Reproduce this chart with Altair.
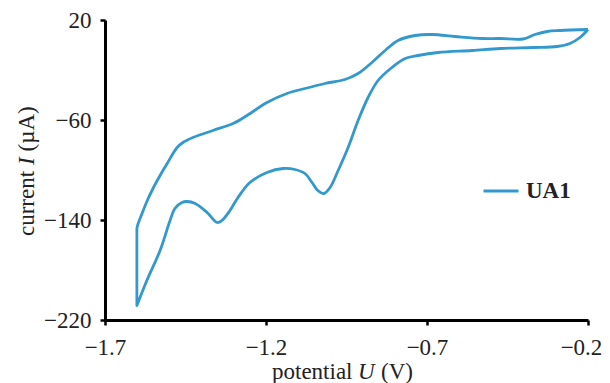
import altair as alt
import pandas as pd

# Cyclic voltammogram UA1: potential (V) and current (µA), in sweep order
potential = [
    -0.200, -0.287, -0.327, -0.365, -0.402, -0.473, -0.529, -0.613, -0.684, -0.737,
    -0.790, -0.830, -0.871, -0.914, -0.955, -1.017, -1.079, -1.135, -1.197, -1.259,
    -1.302, -1.365, -1.427, -1.458, -1.476, -1.507, -1.529, -1.551, -1.570, -1.585,
    -1.598, -1.601, -1.601, -1.601, -1.601,
    -1.570, -1.529, -1.498, -1.483, -1.461, -1.445, -1.420, -1.383, -1.352, -1.337,
    -1.312, -1.287, -1.250, -1.197, -1.147, -1.110, -1.079, -1.057, -1.039, -1.020,
    -1.001, -0.976, -0.945, -0.914, -0.883, -0.852, -0.809, -0.768, -0.728, -0.666,
    -0.560, -0.473, -0.371, -0.296, -0.256, -0.225, -0.200,
]
current = [
    12.4, 11.6, 10.8, 8.4, 4.8, 5.2, 5.2, 6.8, 8.4, 7.6,
    3.6, -4.4, -14.0, -22.8, -27.6, -30.8, -34.8, -38.8, -46.0, -56.4,
    -62.8, -68.4, -74.0, -78.0, -82.0, -94.8, -104.4, -114.8, -125.2, -134.8,
    -143.6, -146.8, -146.8, -208.4, -208.4,
    -188.4, -164.4, -140.4, -130.8, -126.0, -125.2, -126.8, -134.0, -142.0, -140.4,
    -132.4, -122.0, -110.0, -102.0, -98.8, -99.6, -102.8, -110.0, -116.4, -118.8,
    -114.0, -100.4, -82.0, -60.4, -42.0, -28.4, -18.0, -10.8, -8.4, -6.0,
    -4.4, -2.8, -2.0, -1.2, 1.2, 6.0, 12.4,
]
series_name = "UA1"
x_ticks = [-1.7, -1.2, -0.7, -0.2]
y_ticks = [-220, -140, -60, 20]

# axis titles, split so the symbol letters can be set in italics
x_title_parts = ["potential", "U", "(V)"]
y_title_parts = ["current", "I", "(µA)"]

df = pd.DataFrame({
    "U": potential,
    "I": current,
    "order": list(range(len(potential))),
    "series": [series_name] * len(potential),
})

FONT = "Liberation Serif"
BLUE = "#3298cd"
TEXT = "#222222"
FS = 23

line = alt.Chart(df).mark_line(
    strokeWidth=2.8, strokeJoin="round", interpolate="catmull-rom"
).encode(
    x=alt.X(
        "U:Q",
        scale=alt.Scale(domain=[-1.7, -0.2], nice=False, zero=False),
        axis=alt.Axis(
            values=x_ticks, format=".1f", title=None,
            labelPadding=11, labelFlush=False,
            labelOffset={"condition": {"test": "datum.value > -0.25", "value": -7}, "value": 0},
        ),
    ),
    y=alt.Y(
        "I:Q",
        scale=alt.Scale(domain=[-220, 20], nice=False, zero=False),
        axis=alt.Axis(values=y_ticks, format="d", title=None,
                      labelPadding=9, labelFlush=False),
    ),
    order=alt.Order("order:Q"),
    color=alt.Color(
        "series:N",
        scale=alt.Scale(range=[BLUE]),
        legend=alt.Legend(
            title=None, orient="none", legendX=377, legendY=152,
            symbolType="stroke", symbolSize=1225, symbolStrokeWidth=3,
            labelFont=FONT, labelFontSize=FS, labelFontWeight="bold",
            labelColor=TEXT, labelOffset=6, padding=0,
        ),
    ),
)


def title_piece(text, italic, x, y, angle=0):
    return alt.Chart(pd.DataFrame({"t": [text]})).mark_text(
        font=FONT, fontSize=FS, fontStyle="italic" if italic else "normal",
        color=TEXT, align="left", baseline="alphabetic", angle=angle,
    ).encode(text="t:N", x=alt.value(x), y=alt.value(y))


# x title: "potential U (V)" laid out left to right
xt_y = 359
xt = [
    title_piece(x_title_parts[0], False, 167, xt_y),
    title_piece(x_title_parts[1], True, 253, xt_y),
    title_piece(x_title_parts[2], False, 276, xt_y),
]
# y title: "current I (µA)" read bottom to top
yt_x = -71
yt = [
    title_piece(y_title_parts[0], False, yt_x, 216, 270),
    title_piece(y_title_parts[1], True, yt_x, 145, 270),
    title_piece(y_title_parts[2], False, yt_x, 131.5, 270),
]

chart = alt.layer(line, *xt, *yt).properties(
    width=483,
    height=300,
    autosize=alt.AutoSizeParams(type="none"),
    padding={"left": 97, "top": 12, "right": 14, "bottom": 63},
).configure_view(
    stroke=None
).configure_axis(
    grid=False,
    domainColor="black",
    domainWidth=3,
    tickColor="black",
    tickWidth=2.5,
    tickSize=5,
    labelFont=FONT,
    labelFontSize=FS,
    labelColor=TEXT,
).configure_legend(
    labelFont=FONT,
    labelFontSize=FS,
    labelFontWeight="bold",
)

chart.save("out.html", embed_options={"renderer": "svg", "actions": False})
